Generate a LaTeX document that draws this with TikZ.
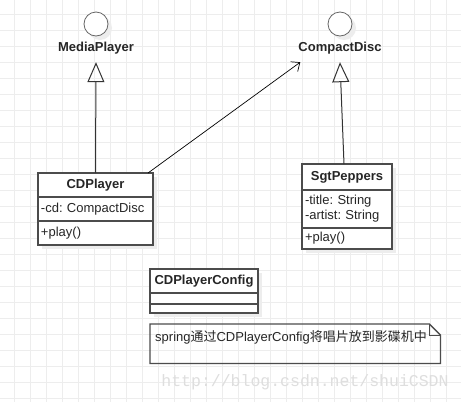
\documentclass[tikz,border=0pt]{standalone}
\usepackage{fontspec}
\setmainfont{Liberation Sans}
\newfontfamily\cjk{Noto Sans CJK SC}
\newfontfamily\wmfont{Liberation Mono}
\usetikzlibrary{positioning,arrows.meta,shadows}
\frenchspacing

\begin{document}
\begin{tikzpicture}[x=1pt,y=-1pt,
  gridline/.style={black!7,line width=0.7pt},
  shade/.style={drop shadow={shadow xshift=4pt,shadow yshift=-4pt,fill=black!7,opacity=1}},
  part/.style={draw=black!70,line width=1.3pt,fill=white,outer sep=0pt,inner xsep=3pt,inner ysep=0pt,
    font=\fontsize{13}{15}\selectfont,text=black!85,shade},
  head/.style={part,font=\fontsize{13}{15}\selectfont\bfseries,align=center,minimum height=24pt},
  field/.style={part,align=left,minimum height=24pt},
  iface/.style={circle,draw=black!60,line width=0.8pt,fill=white,minimum size=24pt,inner sep=0pt,shade},
  ifname/.style={font=\fontsize{13}{15}\selectfont\bfseries,text=black!85,inner sep=0pt,minimum height=28pt},
  realize/.style={draw=black!80,line width=1pt,-{Triangle[open,length=20pt,width=17pt]}},
  uses/.style={draw=black,line width=0.7pt,-{Straight Barb[length=7pt,width=12pt]}}]

\fill[white] (0,0) rectangle (461,402);
\useasboundingbox (0,0) rectangle (461,402);
\foreach \gx in {14,30,...,461} \draw[gridline] (\gx,0) -- (\gx,402);
\foreach \gy in {14,30,...,402} \draw[gridline] (0,\gy) -- (461,\gy);

% interfaces
\node[iface] (mpicon) at (96,24) {};
\node[ifname] (mp) at (96,48) {MediaPlayer};
\node[iface] (cdicon) at (340,24) {};
\node[ifname] (cd) at (340,48) {CompactDisc};

% classes
\node[head,text width=109pt] (cdp) at (95.5,185) {CDPlayer};
\node[field,text width=109pt,below=0pt of cdp] (cdpattr) {-cd: CompactDisc};
\node[field,text width=109pt,below=0pt of cdpattr] (cdpops) {+play()};

\node[head,text width=84pt,minimum height=26pt] (sgt) at (347,177) {SgtPeppers};
\node[field,text width=84pt,minimum height=38pt,below=0pt of sgt] (sgtattr) {-title: String\\-artist: String};
\node[field,text width=84pt,minimum height=21pt,below=0pt of sgtattr] (sgtops) {+play()};

\node[head,text width=102pt] (cfg) at (204,281) {CDPlayerConfig};
\node[field,text width=102pt,minimum height=11pt,below=0pt of cfg] (cfgattr) {};
\node[field,text width=102pt,minimum height=9pt,below=0pt of cfgattr] (cfgops) {};

% note
\node[anchor=north west,inner xsep=5pt,inner ysep=3pt,text height=14pt,text depth=19pt,
  text width=280pt,align=left,font=\fontsize{13}{15}\selectfont,text=black!85] (note) at (150,324)
  {spring{\cjk 通过}CDPlayerConfig{\cjk 将唱片放到影碟机中}};
\draw[black!70,line width=1.3pt] (note.north west) -- ([xshift=-11pt]note.north east)
  -- ([yshift=-11pt]note.north east) -- (note.south east) -- (note.south west) -- cycle;
\draw[black!70,line width=1pt] ([xshift=-11pt]note.north east) |- ([yshift=-11pt]note.north east);

% relations
\draw[realize] (cdp.north) -- (mp.south);
\draw[realize] ([xshift=-3pt]sgt.north) -- (cd.south);
\draw[uses] ([xshift=-5pt]cdp.north east) -- ([xshift=2pt]cd.south west);

\node[font=\wmfont\fontsize{16.5}{18}\selectfont,text=black!13] (mark) at (305,382) {http://blog.csdn.net/shuiCSDN};
\end{tikzpicture}
\end{document}
